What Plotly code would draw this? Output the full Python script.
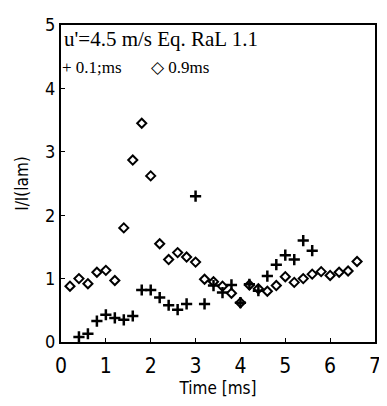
import plotly.graph_objects as go

# 0.9 ms series (open diamonds)
t_09 = [0.2, 0.4, 0.6, 0.8, 1.0, 1.2, 1.4, 1.6, 1.8, 2.0, 2.2, 2.4, 2.6, 2.8, 3.0,
        3.2, 3.4, 3.6, 3.8, 4.0, 4.2, 4.4, 4.6, 4.8, 5.0, 5.2, 5.4, 5.6, 5.8, 6.0,
        6.2, 6.4, 6.6]
v_09 = [0.88, 1.00, 0.92, 1.10, 1.13, 0.97, 1.80, 2.87, 3.45, 2.62, 1.55, 1.30, 1.41,
        1.34, 1.26, 0.99, 0.95, 0.88, 0.77, 0.62, 0.90, 0.84, 0.80, 0.89, 1.03, 0.94,
        1.00, 1.07, 1.11, 1.05, 1.10, 1.12, 1.27]

# 0.1 ms series (plus)
t_01 = [0.4, 0.6, 0.8, 1.0, 1.2, 1.4, 1.6, 1.8, 2.0, 2.2, 2.4, 2.6, 2.8, 3.0, 3.2,
        3.4, 3.6, 3.8, 4.0, 4.2, 4.4, 4.6, 4.8, 5.0, 5.2, 5.4, 5.6]
v_01 = [0.08, 0.13, 0.33, 0.43, 0.38, 0.35, 0.41, 0.82, 0.82, 0.70, 0.58, 0.51, 0.60,
        2.30, 0.60, 0.89, 0.78, 0.90, 0.62, 0.91, 0.81, 1.04, 1.22, 1.37, 1.30, 1.60, 1.44]

x_ticks = [0, 1, 2, 3, 4, 5, 6, 7]
y_ticks = [0, 1, 2, 3, 4, 5]

narrow = "DejaVu Sans Condensed, Liberation Sans Narrow, sans-serif"
serif = "Liberation Serif, DejaVu Serif, serif"

fig = go.Figure()
fig.add_trace(go.Scatter(
    x=t_01, y=v_01, mode="markers", name="0.1ms",
    marker=dict(symbol="cross-thin-open", size=8, color="black",
                line=dict(color="black", width=2.5)),
))
fig.add_trace(go.Scatter(
    x=t_09, y=v_09, mode="markers", name="0.9ms",
    marker=dict(symbol="diamond-open", size=7, color="black",
                line=dict(color="black", width=2)),
))

# page body has an 8px default margin, so the figure is offset by 8px
fig.update_layout(
    width=379, height=398,
    margin=dict(l=53, r=7, t=6, b=64),
    paper_bgcolor="white", plot_bgcolor="white",
    showlegend=False,
    annotations=[
        dict(text="u'=4.5 m/s Eq. RaL 1.1", xref="paper", yref="paper",
             x=0.004, y=0.957, xanchor="left", yanchor="middle", showarrow=False,
             font=dict(family=serif, size=21, color="black")),
        dict(text="+ 0.1;ms", xref="paper", yref="paper",
             x=-0.004, y=0.866, xanchor="left", yanchor="middle", showarrow=False,
             font=dict(family=serif, size=17, color="black")),
        dict(text="◇ 0.9ms", xref="paper", yref="paper",
             x=0.28, y=0.866, xanchor="left", yanchor="middle", showarrow=False,
             font=dict(family=serif, size=17, color="black")),
    ],
)

fig.update_xaxes(
    range=[0, 7], tickvals=x_ticks, ticktext=[str(v) for v in x_ticks],
    ticklabeloverflow="allow", ticklabelstandoff=4,
    showline=True, linecolor="black", linewidth=2, mirror=True,
    ticks="inside", ticklen=4, tickcolor="black", showgrid=False, zeroline=False,
    tickfont=dict(family=narrow, size=21, color="black"),
    title=dict(text="Time [ms]", font=dict(family=narrow, size=17, color="black"), standoff=4),
)
fig.update_yaxes(
    range=[0, 5], tickvals=y_ticks, ticktext=[str(v) for v in y_ticks],
    ticklabeloverflow="allow",
    showline=True, linecolor="black", linewidth=2, mirror=True,
    ticks="inside", ticklen=4, tickcolor="black", showgrid=False, zeroline=False,
    tickfont=dict(family=narrow, size=18, color="black"),
    title=dict(text="I/I(lam)", font=dict(family=narrow, size=17, color="black"), standoff=12),
)

fig.write_html("out.html")
